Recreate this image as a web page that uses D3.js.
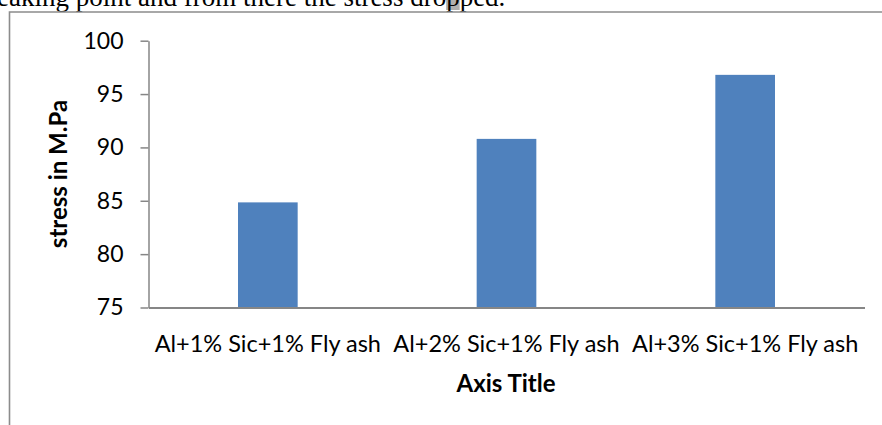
<!DOCTYPE html>
<html>
<head>
<meta charset="utf-8">
<script src="https://cdn.jsdelivr.net/npm/d3@7"></script>
<style>
  html, body { margin: 0; padding: 0; background: #fff; }
  svg { display: block; }
</style>
</head>
<body>
<svg id="chart" width="882" height="425"></svg>
<script>
// Stress by composition
const categories = ["Al+1% Sic+1% Fly ash", "Al+2% Sic+1% Fly ash", "Al+3% Sic+1% Fly ash"];
const stressValues = [84.85, 90.8, 96.8];
const yTicks = [75, 80, 85, 90, 95, 100];
const yTitle = "stress in M.Pa";
const xTitle = "Axis Title";
const bodyLine = "eaking point and from there the stress dropped.";

const svg = d3.select("#chart");
const uiFont = "Lato, 'Open Sans', sans-serif";
const axisGray = "#868686";

// Line of document text above the chart frame
const para = svg.append("text")
  .attr("x", -3)
  .attr("y", 6)
  .attr("font-family", "'Liberation Serif', 'Times New Roman', serif")
  .attr("font-size", 27)
  .attr("fill", "#000")
  .text(bodyLine);

// Soft grey mark behind one letter of the text
const pIdx = bodyLine.indexOf("dropped") + 3;
const node = para.node();
const px = -3 + node.getSubStringLength(0, pIdx);
const pw = node.getSubStringLength(pIdx, 1);
svg.insert("rect", "text")
  .attr("x", px)
  .attr("y", 0)
  .attr("width", pw)
  .attr("height", 10)
  .attr("fill", "#b0b0b0");

// Chart frame (left and top edges visible)
svg.append("path")
  .attr("d", "M9.5,425 V12 H882")
  .attr("fill", "none")
  .attr("stroke", "#8c8c8c")
  .attr("stroke-width", 1.6);

const plot = { left: 148.5, right: 864.5, top: 40.7, bottom: 307.5 };

const x = d3.scaleBand()
  .domain(categories)
  .range([plot.left, plot.right])
  .paddingInner(0.75)
  .paddingOuter(0.375);

const y = d3.scaleLinear()
  .domain([75, 100])
  .range([plot.bottom, plot.top]);

// Bars
svg.append("g")
  .selectAll("rect")
  .data(categories)
  .join("rect")
  .attr("x", d => x(d))
  .attr("width", x.bandwidth())
  .attr("y", (d, i) => y(stressValues[i]))
  .attr("height", (d, i) => y(75) - y(stressValues[i]))
  .attr("fill", "#4f81bd");

// Y axis
const yAxis = svg.append("g")
  .attr("transform", `translate(${plot.left},0)`)
  .call(d3.axisLeft(y).tickValues(yTicks).tickSize(8).tickPadding(17).tickSizeOuter(0));
yAxis.select(".domain").attr("stroke", axisGray).attr("stroke-width", 1.5);
yAxis.selectAll(".tick line").attr("stroke", axisGray).attr("stroke-width", 1.5);
yAxis.selectAll(".tick text")
  .attr("font-family", uiFont)
  .attr("font-size", 23)
  .attr("fill", "#000");

// X axis
const xAxis = svg.append("g")
  .attr("transform", `translate(0,${plot.bottom})`)
  .call(d3.axisBottom(x).tickSize(0).tickPadding(30).tickSizeOuter(0));
xAxis.select(".domain").attr("stroke", axisGray).attr("stroke-width", 2);
xAxis.selectAll(".tick text")
  .attr("font-family", uiFont)
  .attr("font-size", 23.5)
  .attr("fill", "#000")
  .attr("dy", 0)
  .attr("y", 44);

// Axis titles
svg.append("text")
  .attr("transform", `translate(67,174) rotate(-90)`)
  .attr("text-anchor", "middle")
  .attr("font-family", uiFont)
  .attr("font-weight", "bold")
  .attr("font-size", 24)
  .attr("fill", "#000")
  .text(yTitle);

svg.append("text")
  .attr("x", 506)
  .attr("y", 392)
  .attr("text-anchor", "middle")
  .attr("font-family", uiFont)
  .attr("font-weight", "bold")
  .attr("font-size", 24)
  .attr("fill", "#000")
  .text(xTitle);
</script>
</body>
</html>
